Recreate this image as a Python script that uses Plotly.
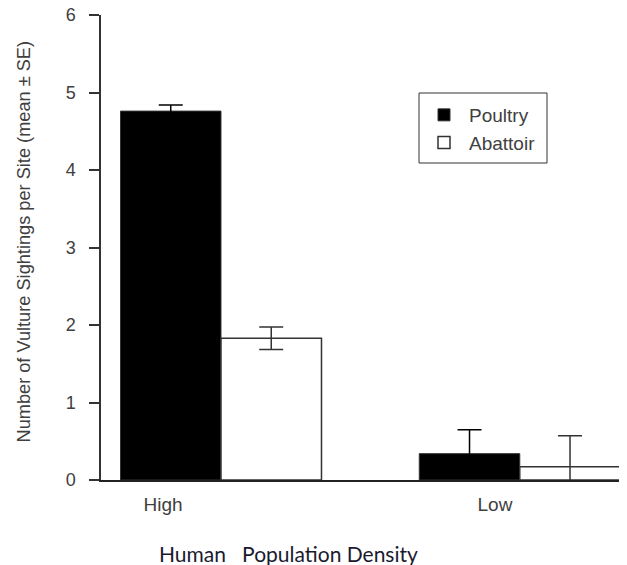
import plotly.graph_objects as go

# ---- data ----
categories = ["High", "Low"]
series_names = ["Poultry", "Abattoir"]
poultry_mean = [4.76, 0.34]
poultry_se = [0.08, 0.31]
abattoir_mean = [1.83, 0.17]
abattoir_se = [0.145, 0.40]
y_ticks = [0, 1, 2, 3, 4, 5, 6]

# ---- layout constants (x axis in units of one bar width) ----
group_centers = [1.194, 4.167]
label_positions = [0.617, 3.92]
x_range = [0, 5.234]

# page body has an 8px margin; compensate so the plot area lands where the reference has it
PAGE_OFF = 8
PLOT_L, PLOT_R, PLOT_T, PLOT_B = 101, 627, 15, 480
W, H = 627 - PAGE_OFF, 565 - PAGE_OFF


def px(x):
    return (x - PLOT_L) / (PLOT_R - PLOT_L)


def py(y):
    return (PLOT_B - y) / (PLOT_B - PLOT_T)


ARIAL = "Liberation Sans, Arial, sans-serif"

fig = go.Figure()
fig.add_trace(go.Bar(
    name=series_names[0], x=group_centers, y=poultry_mean,
    width=1, offset=-1,
    marker=dict(color="black", line=dict(color="#333333", width=1)),
    error_y=dict(type="data", array=poultry_se, visible=True,
                 color="black", thickness=1.5, width=12),
))
fig.add_trace(go.Bar(
    name=series_names[1], x=group_centers, y=abattoir_mean,
    width=1, offset=0,
    marker=dict(color="white", line=dict(color="#333333", width=1.5)),
    error_y=dict(type="data", array=abattoir_se, visible=True,
                 color="#333333", thickness=1.5, width=12),
))

fig.update_layout(
    width=W, height=H,
    margin=dict(l=PLOT_L - PAGE_OFF, r=0, t=PLOT_T - PAGE_OFF, b=H - (PLOT_B - PAGE_OFF)),
    paper_bgcolor="white", plot_bgcolor="white",
    barmode="overlay",
    showlegend=True,
    legend=dict(x=px(419), y=py(96), xanchor="left", yanchor="top",
                borderwidth=0, bgcolor="rgba(0,0,0,0)",
                font=dict(family=ARIAL, size=19, color="#404040"),
                itemwidth=40),
    xaxis=dict(range=x_range, tickmode="array", tickvals=label_positions,
               ticktext=categories, ticks="", showgrid=False, zeroline=False,
               showline=True, linecolor="#222222", linewidth=2,
               ticklabelstandoff=6, automargin=False,
               tickfont=dict(family=ARIAL, size=19, color="#404040")),
    yaxis=dict(range=[0, 6], tickmode="array", tickvals=y_ticks,
               ticks="outside", ticklen=10, tickcolor="#333333", tickwidth=1.5,
               showgrid=False, zeroline=False, showline=True,
               linecolor="#333333", linewidth=1.5,
               ticklabelstandoff=10, ticklabeloverflow="allow", automargin=False,
               tickfont=dict(family=ARIAL, size=18, color="#404040")),
    shapes=[
        dict(type="rect", xref="paper", yref="paper",
             x0=px(419), x1=px(547), y0=py(163), y1=py(93),
             line=dict(color="#333333", width=1), fillcolor="rgba(0,0,0,0)"),
    ],
    annotations=[
        dict(text="Number of Vulture Sightings per Site (mean ± SE)",
             xref="paper", yref="paper", x=px(24), y=py(241.5),
             xanchor="center", yanchor="middle", textangle=-90, showarrow=False,
             font=dict(family=ARIAL, size=18.2, color="#404040")),
        dict(text="Human&nbsp;&nbsp;&nbsp;Population Density",
             xref="paper", yref="paper", x=px(157), y=py(553),
             xanchor="left", yanchor="middle", showarrow=False,
             font=dict(family="Lato, sans-serif", size=21, color="#1a1a2e")),
    ],
)

fig.write_html("out.html")
